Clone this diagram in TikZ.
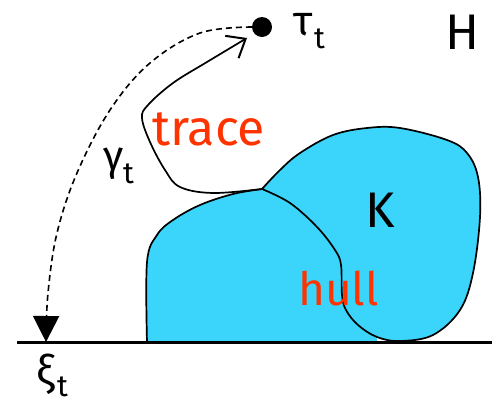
\documentclass[tikz,border=0pt]{standalone}
\usepackage{fontspec}
\setmainfont{Fira Sans}
\usetikzlibrary{arrows.meta}
\definecolor{hullcyan}{RGB}{59,213,251}
\definecolor{labelred}{RGB}{255,51,0}
\begin{document}
\begin{tikzpicture}[x=1pt,y=-1pt,
  outline/.style={draw=black,line width=1.7pt,line join=round},
  lbl/.style={anchor=base west,inner sep=0pt,font=\fontsize{50}{50}\selectfont},
  redlbl/.style={lbl,text=labelred},
  greek/.style={anchor=base west,inner sep=0pt,font=\fontsize{42}{42}\selectfont},
  subt/.style={anchor=base west,inner sep=0pt,font=\fontsize{30}{30}\selectfont}]
\useasboundingbox (0,0) rectangle (492,405);
% coordinates
\coordinate (junc) at (262,189);
\coordinate (lineL) at (17,342);
\coordinate (lineR) at (492,342);
\coordinate (xi) at (46,342);
% hull fills
\fill[hullcyan] plot[smooth,tension=0.6] coordinates {(147,342) (147,262) (157,235) (173,220) (200,205) (233,194) (262,189)}
  -- plot[smooth,tension=0.6] coordinates {(262,189) (290,203) (317,227) (335,250) (341,265) (342,295) (346,310) (358,325) (377,337)}
  -- (377,342) -- cycle;
\fill[hullcyan] plot[smooth,tension=0.6] coordinates {(262,189) (280,170) (300,153) (333,135) (367,128) (400,128) (447,140) (467,153) (478,177) (480,217) (473,273) (460,310) (433,335) (400,341) (377,337) (358,325) (346,310) (342,295) (341,265) (335,250) (317,227) (290,203) (262,189)} -- cycle;
% hull outlines
\draw[outline] plot[smooth,tension=0.6] coordinates {(147,342) (147,262) (157,235) (173,220) (200,205) (233,194) (262,189)};
\draw[outline] plot[smooth,tension=0.6] coordinates {(262,189) (280,170) (300,153) (333,135) (367,128) (400,128) (447,140) (467,153) (478,177) (480,217) (473,273) (460,310) (433,335) (400,341) (377,337) (358,325) (346,310) (342,295) (341,265) (335,250) (317,227) (290,203) (262,189)};
% baseline
\draw[line width=3pt] (lineL) -- (lineR);
% tip point
\node[circle,fill=black,inner sep=0pt,minimum size=20pt] (tau) at (262,27) {};
% trace curve
\draw[line width=1.7pt,-{Straight Barb[length=16pt,width=26pt,line width=2pt]}]
  plot[smooth,tension=0.6] coordinates {(junc) (213,193) (180,187) (165,170) (150,142) (142,118) (148,105) (173,83) (207,62) (247,38)};
% dashed arc
\draw[line width=1.6pt,dash pattern=on 6pt off 4pt,-{Triangle[length=26pt,width=26pt]}]
  plot[smooth,tension=0.6] coordinates {(tau.west) (200,33) (150,63) (110,110) (77,173) (57,233) (48,293) (xi)};
% labels
\node[redlbl] (tracelbl) at (152,145) {trace};
\node[redlbl,font=\fontsize{46}{46}\selectfont] (hulllbl) at (298,305) {hull};
\node[lbl] (K) at (365,227) {K};
\node[lbl] (H) at (445,49) {H};
\node[greek] (taulbl) at (293,35) {τ};
\node[subt] (taut) at (314,48) {t};
\node[greek] (gammalbl) at (103,170) {γ};
\node[subt] (gammat) at (123,183) {t};
\node[greek] (xilbl) at (36,385) {ξ};
\node[subt] (xit) at (57,396) {t};
\end{tikzpicture}
\end{document}
